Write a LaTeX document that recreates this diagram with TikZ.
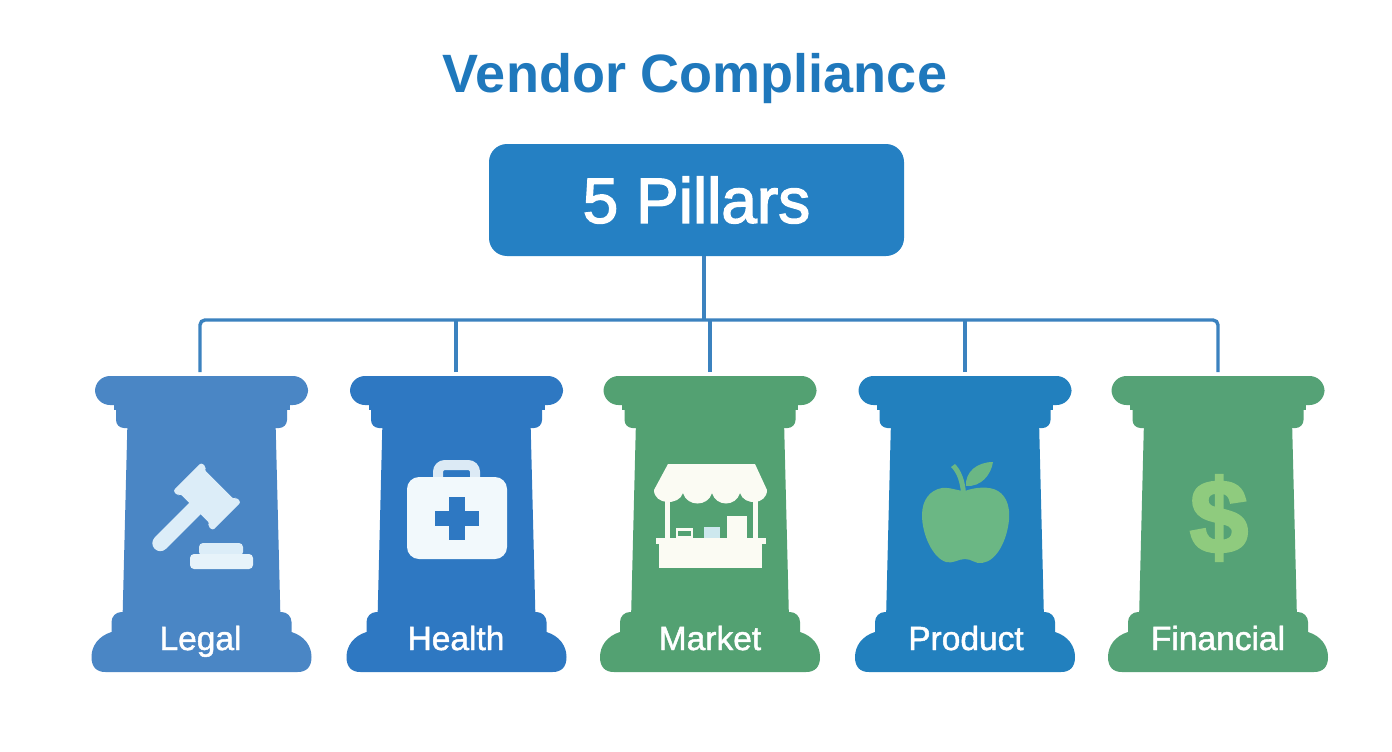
\documentclass[tikz,border=0pt]{standalone}
\usepackage{fontspec}
\setmainfont{Liberation Sans}
\newfontfamily\medfont[FakeBold=1.4]{Liberation Sans}
\newfontfamily\hubfont[FakeBold=2.2]{Liberation Sans}
\newfontfamily\heavyfont[FakeBold=3]{Liberation Sans Bold}
\definecolor{legalc}{HTML}{4A86C5}
\definecolor{healthc}{HTML}{2E78C2}
\definecolor{marketc}{HTML}{53A172}
\definecolor{productc}{HTML}{2280BE}
\definecolor{financec}{HTML}{55A276}
\definecolor{titlec}{HTML}{1F78BC}
\definecolor{boxc}{HTML}{2580C3}
\definecolor{linec}{HTML}{3B82BF}
\definecolor{gavelc}{HTML}{DCEDF8}
\definecolor{kitc}{HTML}{F2F9FC}
\definecolor{kith}{HTML}{DCEAF5}
\definecolor{stallc}{HTML}{FBFBF3}
\definecolor{potc}{HTML}{CDE8EE}
\definecolor{applec}{HTML}{6BB784}
\definecolor{dollarc}{HTML}{8FCB7E}
\tikzset{
  titletext/.style={text=titlec,font=\fontsize{54}{60}\selectfont\bfseries,inner sep=0pt},
  boxnode/.style={fill=boxc,rounded corners=18pt,minimum width=415pt,minimum height=112pt,inner sep=0pt,
    text=white,font=\hubfont\fontsize{64}{68}\selectfont},
  plabel/.style={text=white,font=\medfont\fontsize{33.5}{36}\selectfont,inner sep=0pt,anchor=base},
  connector/.style={draw=linec,line width=3.4pt,rounded corners=5pt},
}
\newcommand{\pillarshape}[1]{%
  \fill[#1,rounded corners=15pt] (-106.5,376) rectangle (106.5,405);
  \fill[#1] (-88,400) rectangle (88,410);
  \fill[#1,rounded corners=8pt] (-85.5,400) -- (-85.5,428) -- (85.5,428) -- (85.5,400) -- cycle;
  \fill[#1] (-74,420) -- (74,420) -- (79,620) -- (-79,620) -- cycle;
  \fill[#1,rounded corners=10pt] (-90,612) -- (90,612) -- (90,645) -- (-90,645) -- cycle;
  \fill[#1] (-90,632) .. controls (-103,636) and (-110,646) .. (-110,657)
     .. controls (-110,667) and (-105,672) .. (-96,672) -- (96,672)
     .. controls (105,672) and (110,667) .. (110,657)
     .. controls (110,646) and (103,636) .. (90,632) -- cycle;
}
\begin{document}
\begin{tikzpicture}[x=1pt,y=-1pt]
\useasboundingbox (0,0) rectangle (1392,752);
\fill[white] (0,0) rectangle (1392,752);
\node[titletext] (title) at (695,79) {Vendor Compliance};
\begin{scope}[shift={(201.5,0)}]\pillarshape{legalc}\end{scope}
\begin{scope}[shift={(456.5,0)}]\pillarshape{healthc}\end{scope}
\begin{scope}[shift={(710,0)}]\pillarshape{marketc}\end{scope}
\begin{scope}[shift={(965,0)}]\pillarshape{productc}\end{scope}
\begin{scope}[shift={(1218,0)}]\pillarshape{financec}\end{scope}
\node[boxnode] (hub) at (696.5,200) {5 Pillars};
\coordinate (trunk) at (704,256);
\coordinate (bus) at (704,320);
\coordinate (legalTop) at (200,372);
\coordinate (healthTop) at (456,372);
\coordinate (marketTop) at (710,372);
\coordinate (productTop) at (965,372);
\coordinate (financeTop) at (1218,372);
\draw[connector] (trunk) -- (bus);
\draw[connector] (legalTop) |- (bus) -| (financeTop);
\draw[connector] (healthTop) -- (healthTop |- bus);
\draw[connector] (marketTop) -- (marketTop |- bus);
\draw[connector] (productTop) -- (productTop |- bus);
% gavel
\begin{scope}[shift={(207,496.5)},rotate=-45]
  \fill[gavelc,rounded corners=2.5pt] (-28,-20) -- (-21,-20) -- (-21,-17) -- (21,-17) -- (21,-20) -- (28,-20)
     -- (28,20) -- (21,20) -- (21,17) -- (-21,17) -- (-21,20) -- (-28,20) -- cycle;
  \draw[gavelc,line width=16pt,line cap=round] (0,12) -- (0,66);
\end{scope}
\fill[gavelc,rounded corners=4pt] (199,543) rectangle (243,556);
\fill[gavelc!70!white,rounded corners=4pt] (190,554) rectangle (253,569);
% kit
\draw[kith,line width=10pt,rounded corners=7pt] (438,480) -- (438,465) -- (475,465) -- (475,480);
\fill[kitc,rounded corners=12pt] (407,477) rectangle (507,559);
\fill[healthc] (449,497) rectangle (465,540);
\fill[healthc] (435,511) rectangle (479,526);
% stall
\fill[stallc] (668,464) -- (755,464) -- (767,490)
  .. controls (767,505) and (744,506) .. (740,493)
  .. controls (736,507) and (716,507) .. (712,493)
  .. controls (708,507) and (687,507) .. (683,493)
  .. controls (679,506) and (654,505) .. (654,490) -- cycle;
\fill[stallc] (665,495) rectangle (670,540);
\fill[stallc] (753,495) rectangle (758,540);
\fill[stallc] (656,538) rectangle (766,544);
\fill[stallc] (659,544) rectangle (762,568);
\fill[stallc] (727,516) rectangle (747,538);
\fill[stallc] (676,528) rectangle (693,538);
\fill[marketc] (678,531) rectangle (691,536);
\fill[potc] (704,527) rectangle (720,538);
% apple
\fill[applec] (965,491)
  .. controls (975,487) and (990,486) .. (998,491)
  .. controls (1008,497) and (1010,510) .. (1009,520)
  .. controls (1007,540) and (997,561) .. (982,563)
  .. controls (975,564) and (972,559) .. (965,559)
  .. controls (958,559) and (953,564) .. (946,562)
  .. controls (933,558) and (922,535) .. (922,515)
  .. controls (922,500) and (930,490) .. (942,488)
  .. controls (950,487) and (958,491) .. (965,491) -- cycle;
\fill[applec] (951,467) -- (955,464) .. controls (961,470) and (965,480) .. (966,493) -- (961,493)
  .. controls (960,482) and (957,473) .. (951,467) -- cycle;
\fill[applec] (966,486) .. controls (965,472) and (977,462) .. (993,462)
  .. controls (991,475) and (981,487) .. (966,486) -- cycle;
% dollar
\node[inner sep=0pt,text=dollarc,font=\heavyfont\fontsize{104}{110}\selectfont] (dollar) at (1219,518) {\$};
% labels
\node[plabel] (l1) at (200.5,650) {Legal};
\node[plabel] (l2) at (456,650) {Health};
\node[plabel] (l3) at (710,650) {Market};
\node[plabel] (l4) at (966,650) {Product};
\node[plabel] (l5) at (1218,650) {Financial};
\end{tikzpicture}
\end{document}
